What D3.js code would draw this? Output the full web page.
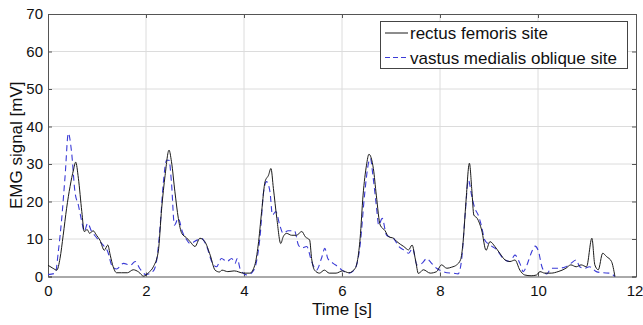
<!DOCTYPE html>
<html>
<head>
<meta charset="utf-8">
<script src="https://cdn.jsdelivr.net/npm/d3@7"></script>
<style>
  body { margin: 0; background: #fff; }
  text { font-family: "Liberation Sans", Arial, sans-serif; fill: #111; }
</style>
</head>
<body>
<script>
var width = 643;
var height = 325;

// [time s, EMG mV]
var rectusFemoris = [
  [0,3],[0.1,2.2],[0.18,1.7],[0.245,4.8],[0.31,11],[0.38,18.2],[0.45,24],[0.52,28.4],[0.565,30.5],
  [0.62,26.2],[0.69,17.3],[0.74,12],[0.8,12.5],[0.85,11.5],[0.92,12.2],[0.99,11],[1.06,9.7],
  [1.15,7],[1.22,8.4],[1.27,5.7],[1.33,2.6],[1.4,1],[1.5,1],[1.62,1],[1.74,1.8],[1.85,1.2],
  [1.95,0.1],[2.05,1],[2.15,2.6],[2.25,6.6],[2.32,18.2],[2.39,27],[2.47,33.7],[2.52,30.6],
  [2.59,22.6],[2.66,15.5],[2.73,11.5],[2.82,10.4],[2.9,9.3],[3.0,8],
  [3.1,10.2],[3.2,9.3],[3.31,5.7],[3.41,1.7],[3.5,1.2],[3.55,1.7],[3.67,1.3],[3.8,1.5],
  [3.99,0.9],[4.12,0.9],[4.22,3],[4.29,8.4],[4.36,17.3],[4.43,25.3],[4.5,27],[4.55,28.8],
  [4.6,23.5],[4.67,15.5],[4.75,8.8],[4.8,10.6],[4.87,11.5],[4.97,11],[5.07,11],[5.18,12],
  [5.25,10.6],[5.34,9.7],[5.38,4.8],[5.44,1.7],[5.54,0.9],[5.64,1.7],[5.74,0.9],[5.88,0.9],
  [6.01,1.5],[6.14,1],[6.27,2.2],[6.37,10.2],[6.43,21.7],[6.5,29.7],[6.55,32.6],[6.64,28.8],
  [6.7,21.7],[6.78,13.7],[6.88,12.2],[6.95,10.6],[7.05,10.2],[7.12,9.3],[7.26,8],[7.36,7.1],
  [7.43,8.4],[7.5,4.4],[7.56,0.8],[7.66,1.8],[7.8,0.9],[7.93,1.3],[8.03,3.1],[8.14,2.2],
  [8.24,2.5],[8.34,3.1],[8.42,4.5],[8.47,9],[8.53,20],[8.6,30.2],[8.65,23],[8.69,16.4],
  [8.76,15.5],[8.85,12.4],[8.94,7],[9.02,9.3],[9.12,8],[9.22,6.2],[9.33,4.4],[9.43,4],
  [9.53,4.4],[9.63,1.7],[9.73,0.4],[9.86,0.2],[9.97,0.4],[10.04,1.3],[10.14,0.9],[10.27,0.9],
  [10.41,1.3],[10.57,2.2],[10.67,3.1],[10.78,2.6],[10.88,3.1],[10.99,2.6],[11.1,10.2],
  [11.16,3.1],[11.23,1.8],[11.32,6.2],[11.4,5.3],[11.5,4],[11.57,0]
];

var vastusMedialis = [
  [0,0.5],[0.15,0.9],[0.21,6.6],[0.28,15.5],[0.35,27],[0.415,38.2],[0.48,33.3],[0.55,22.6],
  [0.62,19],[0.69,14.6],[0.74,12],[0.81,14.2],[0.89,12],[0.95,11],[1.06,9.3],[1.15,8],
  [1.22,6.6],[1.3,3],[1.4,2],[1.54,3.5],[1.68,3],[1.78,4],[1.88,2],[2.0,0.5],[2.15,1.5],
  [2.22,4.5],[2.29,13.7],[2.35,24.4],[2.42,31],[2.47,31],[2.52,25],[2.58,13.7],[2.66,15.5],
  [2.74,12],[2.82,10],[2.9,8.8],[3.04,9.7],[3.13,10.2],[3.24,8],[3.34,4],[3.44,2.6],[3.54,4.8],
  [3.65,4],[3.75,4.8],[3.82,3.5],[3.86,4.8],[3.93,1.7],[4.07,0.4],[4.2,1.7],[4.27,5],[4.33,11],
  [4.4,22.6],[4.46,25.3],[4.53,22.6],[4.58,16.4],[4.65,17.3],[4.73,13.7],[4.8,11.5],[4.9,12.2],
  [5.03,12.2],[5.11,8.4],[5.18,7.6],[5.28,8],[5.38,4],[5.48,1.7],[5.58,4.8],[5.65,7.5],
  [5.71,4.8],[5.82,3.5],[5.92,2.6],[6.0,1.7],[6.14,0.9],[6.25,1.7],[6.37,8.4],[6.46,21.7],
  [6.54,30.2],[6.58,31.5],[6.63,27],[6.7,19],[6.75,13.7],[6.82,15.5],[6.91,11],[7.05,10.2],
  [7.16,8],[7.26,7.1],[7.36,6.2],[7.44,7.5],[7.53,3.1],[7.63,3.5],[7.73,4.8],[7.83,3.5],
  [7.93,2.2],[8.03,1.5],[8.14,1],[8.27,0.9],[8.37,0.7],[8.44,4.4],[8.51,16],[8.58,25.7],
  [8.65,21.3],[8.71,18.2],[8.78,16.4],[8.85,13.3],[8.91,9.8],[9.02,8.4],[9.16,7.1],[9.29,4.8],
  [9.43,4],[9.53,5.7],[9.63,3.5],[9.7,1.3],[9.76,2.6],[9.86,6.2],[9.94,8.1],[10.01,6.7],
  [10.08,2.6],[10.18,0.7],[10.27,2.2],[10.41,2.2],[10.57,2.6],[10.67,3.5],[10.78,4.4],
  [10.85,2.6],[10.95,2.2],[11.05,2.6],[11.19,1.3],[11.32,1],[11.46,0.9],[11.57,0]
];

var xTicks = [0, 2, 4, 6, 8, 10, 12];
var yTicks = [0, 10, 20, 30, 40, 50, 60, 70];
var seriesNames = ["rectus femoris site", "vastus medialis oblique site"];

var margin = {top: 14, right: 7, bottom: 48.5, left: 48};

var x = d3.scaleLinear()
    .domain([0, 12])
    .range([margin.left, width - margin.right]);

var y = d3.scaleLinear()
    .domain([0, 70])
    .range([height - margin.bottom, margin.top]);

var svg = d3.select("body").append("svg")
    .attr("width", width)
    .attr("height", height);

// grid
svg.append("g")
  .selectAll("line")
  .data(xTicks.slice(1, -1))
  .enter().append("line")
    .attr("x1", d => x(d)).attr("x2", d => x(d))
    .attr("y1", y(0)).attr("y2", y(70))
    .attr("stroke", "#dcdcdc").attr("stroke-width", 1);

svg.append("g")
  .selectAll("line")
  .data(yTicks.slice(1, -1))
  .enter().append("line")
    .attr("x1", x(0)).attr("x2", x(12))
    .attr("y1", d => y(d)).attr("y2", d => y(d))
    .attr("stroke", "#dcdcdc").attr("stroke-width", 1);

// axes (inward ticks, MATLAB style)
svg.append("g")
    .attr("transform", "translate(0," + y(0) + ")")
    .call(d3.axisBottom(x).tickValues(xTicks).tickSize(-4).tickPadding(9));
svg.append("g")
    .attr("transform", "translate(" + x(0) + ",0)")
    .call(d3.axisLeft(y).tickValues(yTicks).tickSize(-4).tickPadding(5));
svg.append("g")
    .attr("transform", "translate(0," + y(70) + ")")
    .call(d3.axisTop(x).tickValues(xTicks).tickSize(-4).tickFormat(""));
svg.append("g")
    .attr("transform", "translate(" + x(12) + ",0)")
    .call(d3.axisRight(y).tickValues(yTicks).tickSize(-4).tickFormat(""));

svg.selectAll(".domain").attr("stroke", "#555");
svg.selectAll(".tick line").attr("stroke", "#555");
svg.selectAll(".tick text")
    .style("font-size", "15px")
    .style("font-family", "Liberation Sans, Arial, sans-serif")
    .attr("fill", "#111");
// last x label sits against the window edge, as in the original
svg.selectAll(".tick text").filter(d => d === 12).attr("dx", "-1.5");

var line = d3.line()
    .x(d => x(d[0]))
    .y(d => y(d[1]))
    .curve(d3.curveMonotoneX);

svg.append("path")
    .datum(vastusMedialis)
    .attr("fill", "none")
    .attr("stroke", "#3b3bd6")
    .attr("stroke-width", 1.1)
    .attr("stroke-dasharray", "6,4")
    .attr("d", line);

svg.append("path")
    .datum(rectusFemoris)
    .attr("fill", "none")
    .attr("stroke", "#1a1a1a")
    .attr("stroke-width", 1)
    .attr("d", line);

// titles
svg.append("text")
    .attr("x", (x(0) + x(12)) / 2)
    .attr("y", 315)
    .attr("text-anchor", "middle")
    .style("font-size", "17px")
    .text("Time [s]");

svg.append("text")
    .attr("transform", "translate(22," + (y(0) + y(70)) / 2 + ") rotate(-90)")
    .attr("text-anchor", "middle")
    .style("font-size", "17px")
    .text("EMG signal [mV]");

// legend
var legend = svg.append("g");
legend.append("rect")
    .attr("x", 380.5).attr("y", 21.5)
    .attr("width", 247).attr("height", 47)
    .attr("fill", "#fff").attr("stroke", "#444").attr("stroke-width", 1);

var rows = legend.selectAll("g")
  .data(seriesNames)
  .enter().append("g")
    .attr("transform", (d, i) => "translate(0," + (33 + i * 24.5) + ")");

rows.append("line")
    .attr("x1", 385).attr("x2", 408)
    .attr("stroke", (d, i) => i ? "#3b3bd6" : "#1a1a1a")
    .attr("stroke-dasharray", (d, i) => i ? "5,3" : null)
    .attr("stroke-width", 1);

rows.append("text")
    .attr("x", 410)
    .attr("y", 6)
    .style("font-size", "17px")
    .text(d => d);
</script>
</body>
</html>
